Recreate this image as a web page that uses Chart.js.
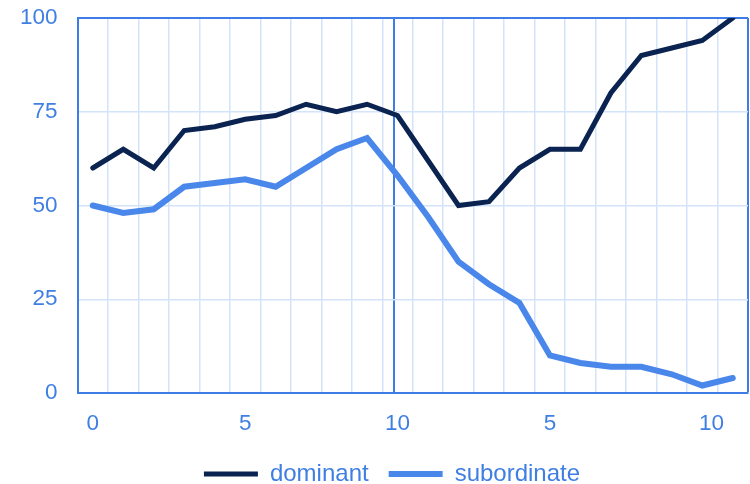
<!DOCTYPE html>
<html>
<head>
<meta charset="utf-8">
<script src="https://cdn.jsdelivr.net/npm/chart.js@4/dist/chart.umd.min.js"></script>
<style>
  html, body { margin: 0; padding: 0; background: #ffffff; }
  #wrap { width: 750px; height: 484px; }
</style>
</head>
<body>
<div id="wrap"><canvas id="c" width="750" height="484"></canvas></div>
<script>
// ---- data ----
const periods = [0,1,2,3,4,5,6,7,8,9,10,11,12,13,14,15,16,17,18,19,20,21];
const dominant = [60,65,60,70,71,73,74,77,75,77,74,62,50,51,60,65,65,80,90,92,94,100];
const subordinate = [50,48,49,55,56,57,55,60,65,68,58,47,35,29,24,10,8,7,7,5,2,4];
const xTickValues = [0, 5, 10, 15, 20.3];
const xTickLabels = ['0', '5', '10', '5', '10'];
const dividerValues = [9.88];
const yTicks = [0, 25, 50, 75, 100];

// ---- styles ----
const TEXT = '#3f7fe3';
const BORDER = '#3e7de6';
const GRID = '#d2e3fa';
const DARK = '#0a2350';
const LIGHT = '#4a87ea';
const FAMILY = '"Liberation Sans", Arial, sans-serif';
const TICK_FONT = { family: FAMILY, size: 22.5 };
const LEGEND_FONT = { family: FAMILY, size: 24 };

const xMin = periods[0] - 0.5, xMax = periods[periods.length - 1] + 0.5;

const legendShift = {
  id: 'legendShift',
  afterLayout(chart) {
    const l = chart.legend;
    if (l) { l.left += 18; l.right += 18; }
  }
};

new Chart(document.getElementById('c'), {
  type: 'line',
  plugins: [legendShift],
  data: {
    labels: periods,
    datasets: [
      { label: 'dominant', data: dominant, borderColor: DARK, backgroundColor: DARK,
        borderWidth: 5, pointRadius: 0, borderCapStyle: 'round', borderJoinStyle: 'miter', tension: 0 },
      { label: 'subordinate', data: subordinate, borderColor: LIGHT, backgroundColor: LIGHT,
        borderWidth: 6, pointRadius: 0, borderCapStyle: 'round', borderJoinStyle: 'miter', tension: 0 }
    ]
  },
  options: {
    responsive: false,
    animation: false,
    devicePixelRatio: 1,
    layout: { padding: { left: 0, right: 2, top: 18, bottom: -12 } },
    plugins: {
      legend: {
        position: 'bottom',
        labels: {
          usePointStyle: true, pointStyle: 'line', pointStyleWidth: 54,
          color: TEXT, font: LEGEND_FONT, padding: 20
        }
      },
      tooltip: { enabled: false }
    },
    scales: {
      x: {
        type: 'linear', min: xMin, max: xMax,
        afterBuildTicks(scale) {
          const t = [];
          for (let v = xMin; v <= xMax + 1e-9; v += 1) t.push({ value: v, kind: 'grid' });
          dividerValues.forEach(v => t.push({ value: v, kind: 'div' }));
          xTickValues.forEach((v, i) => t.push({ value: v, kind: 'label', lbl: xTickLabels[i] }));
          scale.ticks = t;
        },
        afterFit(scale) { scale.height = scale.height - 12; },
        ticks: {
          autoSkip: false, maxRotation: 0, color: TEXT, font: TICK_FONT, padding: 17,
          callback(v, i, ticks) { return ticks[i].kind === 'label' ? ticks[i].lbl : ''; }
        },
        grid: {
          drawTicks: false,
          color(ctx) {
            const t = ctx.tick;
            if (!t) return GRID;
            if (t.kind === 'label') return 'rgba(0,0,0,0)';
            if (t.kind === 'div') return BORDER;
            if (Math.abs(t.value - xMax) < 1e-6) return BORDER;
            return GRID;
          },
          lineWidth(ctx) {
            const t = ctx.tick;
            if (t && (t.kind === 'div' || Math.abs(t.value - xMax) < 1e-6)) return 2;
            return 1.5;
          }
        },
        border: { display: true, color: BORDER, width: 2 }
      },
      y: {
        min: 0, max: 100,
        afterBuildTicks(scale) { scale.ticks = yTicks.map(v => ({ value: v })); },
        afterFit(scale) { scale.paddingTop = 0; scale.paddingBottom = 0; },
        ticks: { color: TEXT, font: TICK_FONT, padding: 20 },
        grid: {
          drawTicks: false,
          color(ctx) { return ctx.tick && ctx.tick.value === 100 ? BORDER : GRID; },
          lineWidth(ctx) { return ctx.tick && ctx.tick.value === 100 ? 2 : 1.5; }
        },
        border: { display: true, color: BORDER, width: 2 }
      }
    }
  }
});
</script>
</body>
</html>
